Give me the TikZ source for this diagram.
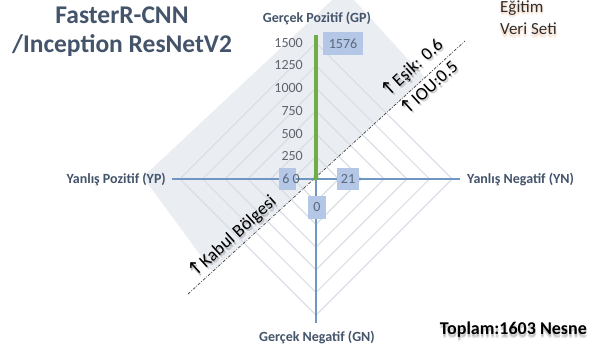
\documentclass[tikz,border=0pt]{standalone}
\usepackage{fontspec}
\setmainfont{Carlito}
\newfontfamily\symfont{DejaVu Sans}
\usetikzlibrary{calc}

\definecolor{axisblue}{RGB}{112,150,196}
\definecolor{gridline}{RGB}{214,220,230}
\definecolor{bandgray}{RGB}{234,237,242}
\definecolor{boxfill}{RGB}{180,199,231}
\definecolor{boxtext}{RGB}{90,104,124}
\definecolor{ticktext}{RGB}{96,100,110}
\definecolor{slate}{RGB}{68,84,106}
\definecolor{datagreen}{RGB}{112,173,71}
\definecolor{glow}{RGB}{244,177,131}

\tikzset{
  axisline/.style={draw=axisblue, line width=1.5pt},
  gridring/.style={draw=gridline, line width=1pt},
  ticklabel/.style={text=ticktext, font=\fontsize{14}{16}\selectfont, anchor=east, inner sep=0pt},
  axislabel/.style={text=slate, font=\bfseries\fontsize{14}{16}\selectfont, inner sep=0pt},
  datalabel/.style={fill=boxfill, text=boxtext, font=\fontsize{14}{16}\selectfont, inner sep=0pt},
  threshold/.style={draw=black!75, line width=0.7pt, dash pattern=on 3pt off 1.5pt on 0.8pt off 1.5pt},
  notetext/.style={text=black, font=\fontsize{18}{20}\selectfont, inner sep=0pt, rotate=42.4},
  noteshadow/.style={text=black, opacity=0.15, font=\fontsize{18}{20}\selectfont, inner sep=0pt, rotate=42.4},
  titletext/.style={text=slate, font=\bfseries\fontsize{25.5}{28}\selectfont, inner sep=0pt},
  captext/.style={font=\fontsize{17}{20}\selectfont, inner sep=0pt, anchor=west},
}

\newcommand{\uparr}{{\symfont\fontsize{19}{20}\selectfont ↑}}

\begin{document}
\begin{tikzpicture}[x=1pt,y=-1pt]
\useasboundingbox (0,0) rectangle (590,354);
\fill[white] (0,0) rectangle (590,354);

% acceptance region above the threshold line
\begin{scope}
  \clip (0,0) rectangle (590,354);
  \fill[bandgray] (212,271) -- (143,177) -- (344,-11) -- (425,78) -- cycle;
\end{scope}

\coordinate (C) at (316,179);

% grid rings every 250
\foreach \k in {1,...,6} {
  \pgfmathsetmacro{\r}{22.7*\k}
  \draw[gridring] (C) ++(0,-\r) -- ++(\r,\r) -- ++(-\r,\r) -- ++(-\r,-\r) -- cycle;
}

% axes
\coordinate (GP) at (316,35);
\coordinate (YN) at (460,179);
\coordinate (GN) at (316,323);
\coordinate (YP) at (172,179);
\draw[axisline] (C) -- (GP);
\draw[axisline] (C) -- (YN);
\draw[axisline] (C) -- (GN);
\draw[axisline] (C) -- (YP);

% value scale
\foreach \k/\v in {1/250,2/500,3/750,4/1000,5/1250,6/1500} {
  \node[ticklabel] at (303,{179-22.7*\k}) {\v};
}

% threshold line
\coordinate (L1) at (188,294);
\coordinate (L2) at (465,41);
\draw[threshold] (L1) -- (L2);

% data series
\draw[datagreen, line width=3.5pt, line cap=butt] (316,35) -- (316,179.5);
\fill[datagreen] (314.2,172) -- (317.8,172) -- (318.5,179.5) -- (313.5,180.5) -- cycle;

% data labels
\node[datalabel, minimum width=40pt, minimum height=23pt] (vgp) at (343,43.5) {1576};
\node[datalabel, minimum width=22pt, minimum height=22pt] (vyn) at (348,179) {21};
\node[datalabel, minimum width=18pt, minimum height=23pt] (vgn) at (317,207.5) {0};
\fill[boxfill] (279,168) rectangle (296,189.5);
\node[text=boxtext, font=\fontsize{14}{16}\selectfont, inner sep=0pt] (vyp) at (291,179) {6 0};

% axis names
\node[axislabel] (lgp) at (317,18) {Gerçek Pozitif (GP)};
\node[axislabel, anchor=east] (lyp) at (166,179) {Yanlış Pozitif (YP)};
\node[axislabel, anchor=west] (lyn) at (467,179) {Yanlış Negatif (YN)};
\node[axislabel] (lgn) at (317,337) {Gerçek Negatif (GN)};

% title
\node[titletext] (t1) at (122,15) {FasterR-CNN};
\node[titletext] (t2) at (122,46) {/Inception ResNetV2};

% notes along the threshold line
\foreach \dx/\dy in {1/1.5,1.8/2.5} {
  \node[noteshadow] at (232+\dx,237+\dy) {\uparr Kabul Bölgesi};
  \node[noteshadow] at (412+\dx,68+\dy) {\uparr Eşik: 0.6};
  \node[noteshadow] at (428+\dx,87+\dy) {\uparr IOU:0.5};
}
\node[notetext] (kabul) at (232,237) {\uparr Kabul Bölgesi};
\node[notetext] (esik) at (412,68) {\uparr Eşik: 0.6};
\node[notetext] (iou) at (428,87) {\uparr IOU:0.5};

% data set caption with a soft orange glow
\foreach \dx/\dy in {-1.5/1.5,1.5/1.5,0/2.5,0/3.5} {
  \node[captext, text=glow, opacity=0.18] at (500+\dx,8+\dy) {Eğitim};
  \node[captext, text=glow, opacity=0.18] at (500+\dx,29+\dy) {Veri Seti};
}
\node[captext, text=black!82] (ds1) at (500,8) {Eğitim};
\node[captext, text=black!82] (ds2) at (500,29) {Veri Seti};

% total count with soft shadow
\foreach \dx/\dy in {0/2,1/3,0/4} {
  \node[text=black, opacity=0.1, font=\bfseries\fontsize{18}{20}\selectfont, inner sep=0pt, anchor=east] at (587+\dx,330+\dy) {Toplam:1603 Nesne};
}
\node[text=black, font=\bfseries\fontsize{18}{20}\selectfont, inner sep=0pt, anchor=east] (total) at (587,330) {Toplam:1603 Nesne};
\end{tikzpicture}
\end{document}
